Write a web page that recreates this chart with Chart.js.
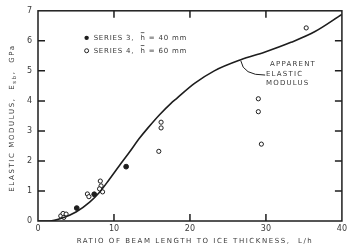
<!DOCTYPE html>
<html>
<head>
<meta charset="utf-8">
<script src="https://cdn.jsdelivr.net/npm/chart.js@4/dist/chart.umd.min.js"></script>
<style>
  html, body { margin: 0; padding: 0; background: #fff; }
  #wrap { width: 350px; height: 249px; }
</style>
</head>
<body>
<div id="wrap"><canvas id="c" width="350" height="249"></canvas></div>
<script>
// apparent elastic modulus curve (L/h, GPa)
var curveX = [0, 1.5, 3, 5, 6.8, 8.1, 9.4, 10.7, 12, 13.4, 14.5, 16, 17.5, 18.2, 20.6, 23.2, 26.7, 29.8, 33.3, 36.4, 40];
var curveY = [0, 0.0, 0.08, 0.3, 0.63, 0.96, 1.39, 1.84, 2.28, 2.77, 3.11, 3.54, 3.92, 4.07, 4.58, 5.0, 5.37, 5.62, 5.95, 6.3, 6.88];

// series 3, h = 40 mm (filled)
var s3X = [5.1, 7.4, 11.6];
var s3Y = [0.43, 0.89, 1.81];

// series 4, h = 60 mm (open)
var s4X = [3.0, 3.3, 3.7, 3.4, 6.5, 6.7, 8.2, 8.3, 8.1, 8.5, 16.2, 16.2, 15.9, 29.0, 29.0, 29.4, 35.3];
var s4Y = [0.17, 0.25, 0.23, 0.12, 0.9, 0.81, 1.33, 1.17, 1.07, 0.97, 3.29, 3.1, 2.32, 4.07, 3.64, 2.56, 6.43];

var xTicks = [0, 10, 20, 30, 40];
var yTicks = [0, 1, 2, 3, 4, 5, 6, 7];

function pts(xs, ys) {
    var out = [];
    for (var i = 0; i < xs.length; i++) out.push({x: xs[i], y: ys[i]});
    return out;
}

var ink = '#1e1e1e';
var txt = '#3a3a3a';
var fam = '"DejaVu Sans", sans-serif';

// text piece with an overbar on the "h"
function legendLine(ctx, x, y, num) {
    var a = 'SERIES ' + num + ',  ';
    ctx.fillText(a, x, y);
    var wa = ctx.measureText(a).width;
    ctx.fillText('h', x + wa, y);
    var wh = ctx.measureText('h').width;
    ctx.save();
    ctx.lineWidth = 0.8;
    ctx.strokeStyle = txt;
    ctx.beginPath();
    ctx.moveTo(x + wa + 0.3, y - 5.2);
    ctx.lineTo(x + wa + wh - 1.3, y - 5.2);
    ctx.stroke();
    ctx.restore();
    ctx.fillText(' = ' + (num === 3 ? 40 : 60) + ' mm', x + wa + wh, y);
}

// frame, inward ticks, titles, legend and label
var decor = {
    id: 'decor',
    afterDraw: function(chart) {
        var ctx = chart.ctx, a = chart.chartArea;
        var xs = chart.scales.x, ys = chart.scales.y;
        ctx.save();
        ctx.strokeStyle = ink;
        ctx.lineWidth = 1.5;
        ctx.strokeRect(a.left, a.top, a.right - a.left, a.bottom - a.top);
        ctx.beginPath();
        xTicks.slice(1, -1).forEach(function(v) {
            var px = xs.getPixelForValue(v);
            ctx.moveTo(px, a.bottom); ctx.lineTo(px, a.bottom - 7);
            ctx.moveTo(px, a.top); ctx.lineTo(px, a.top + 7);
        });
        yTicks.slice(1, -1).forEach(function(v) {
            var py = ys.getPixelForValue(v);
            ctx.moveTo(a.left, py); ctx.lineTo(a.left + 7, py);
            ctx.moveTo(a.right, py); ctx.lineTo(a.right - 7, py);
        });
        ctx.stroke();

        // leader line to curve
        ctx.lineWidth = 1;
        ctx.beginPath();
        ctx.moveTo(xs.getPixelForValue(26.7), ys.getPixelForValue(5.33));
        ctx.quadraticCurveTo(xs.getPixelForValue(27.0), ys.getPixelForValue(4.85),
                             xs.getPixelForValue(29.9), ys.getPixelForValue(4.86));
        ctx.stroke();

        ctx.fillStyle = txt;
        ctx.letterSpacing = '1.2px';
        ctx.font = '7px ' + fam;
        ctx.textAlign = 'left';
        ctx.textBaseline = 'middle';
        ctx.fillText('APPARENT', xs.getPixelForValue(30.55), ys.getPixelForValue(5.21));
        ctx.fillText('ELASTIC', xs.getPixelForValue(30.0), ys.getPixelForValue(4.9));
        ctx.fillText('MODULUS', xs.getPixelForValue(30.0), ys.getPixelForValue(4.58));

        // legend
        var lx = xs.getPixelForValue(6.4);
        var l1 = ys.getPixelForValue(6.1), l2 = ys.getPixelForValue(5.67);
        ctx.fillStyle = ink;
        ctx.beginPath(); ctx.arc(lx, l1, 2.2, 0, Math.PI * 2); ctx.fill();
        ctx.beginPath(); ctx.arc(lx, l2, 2.0, 0, Math.PI * 2); ctx.stroke();
        ctx.fillStyle = txt;
        ctx.letterSpacing = '0.8px';
        legendLine(ctx, lx + 7, l1, 3);
        legendLine(ctx, lx + 7, l2, 4);

        // x title
        ctx.letterSpacing = '1.55px';
        ctx.textAlign = 'center';
        ctx.fillText('RATIO OF BEAM LENGTH TO ICE THICKNESS,  L/h', 195, 241);

        // y title, rotated, with subscript
        ctx.letterSpacing = '1.6px';
        ctx.translate(12, 118);
        ctx.rotate(-Math.PI / 2);
        ctx.textAlign = 'left';
        var p1 = 'ELASTIC MODULUS,  E', p2 = 'sb', p3 = ',  GPa';
        ctx.font = '7px ' + fam;
        var w1 = ctx.measureText(p1).width, w3 = ctx.measureText(p3).width;
        ctx.font = '5.5px ' + fam;
        var w2 = ctx.measureText(p2).width;
        var x0 = -(w1 + w2 + w3) / 2;
        ctx.font = '7px ' + fam;
        ctx.fillText(p1, x0, 0);
        ctx.font = '5.5px ' + fam;
        ctx.fillText(p2, x0 + w1, 3);
        ctx.font = '7px ' + fam;
        ctx.fillText(p3, x0 + w1 + w2, 0);
        ctx.restore();
    }
};

new Chart(document.getElementById('c'), {
    type: 'scatter',
    data: {
        datasets: [{
            label: 'Apparent elastic modulus',
            data: pts(curveX, curveY),
            showLine: true,
            borderColor: ink,
            borderWidth: 1.6,
            pointRadius: 0,
            cubicInterpolationMode: 'monotone'
        }, {
            label: 'Series 3',
            data: pts(s3X, s3Y),
            pointRadius: 2.4,
            pointBackgroundColor: ink,
            pointBorderColor: ink,
            pointBorderWidth: 1
        }, {
            label: 'Series 4',
            data: pts(s4X, s4Y),
            pointRadius: 2.1,
            pointBackgroundColor: '#fff',
            pointBorderColor: ink,
            pointBorderWidth: 1
        }]
    },
    options: {
        responsive: false,
        animation: false,
        layout: { padding: { top: 6, right: 8, left: 0, bottom: 0 } },
        plugins: { legend: { display: false }, tooltip: { enabled: false } },
        scales: {
            x: {
                type: 'linear', min: 0, max: 40,
                afterBuildTicks: function(s) { s.ticks = xTicks.map(function(v) { return {value: v}; }); },
                afterFit: function(s) { s.height = 28; },
                grid: { display: false, drawTicks: false },
                border: { display: false },
                ticks: { padding: 3, color: txt, font: { family: fam, size: 8 } }
            },
            y: {
                type: 'linear', min: 0, max: 7,
                afterBuildTicks: function(s) { s.ticks = yTicks.map(function(v) { return {value: v}; }); },
                afterFit: function(s) { s.width = 38; },
                grid: { display: false, drawTicks: false },
                border: { display: false },
                ticks: { padding: 6, color: txt, font: { family: fam, size: 8 } }
            }
        }
    },
    plugins: [decor]
});
</script>
</body>
</html>
